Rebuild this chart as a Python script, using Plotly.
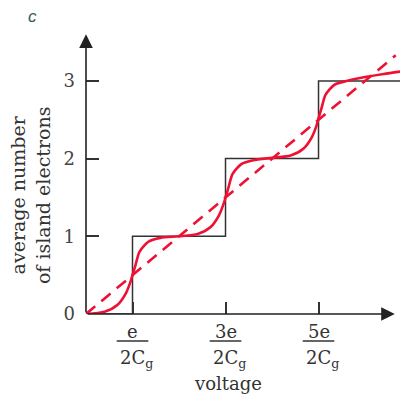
import plotly.graph_objects as go

# ---- data ----
step_x = [0.0, 0.5, 1.5, 2.5, 3.38]
step_y = [0, 1, 2, 3, 3]

dash_x = [0.0, 3.33]
dash_y = [0.0, 3.33]

curve_x = [0.00, 0.20, 0.34, 0.43, 0.48, 0.50, 0.53, 0.575, 0.67, 0.80, 1.00,
           1.20, 1.34, 1.43, 1.48, 1.50, 1.53, 1.575, 1.67, 1.80, 2.00,
           2.20, 2.34, 2.43, 2.48, 2.50, 2.53, 2.575, 2.67, 2.80, 3.00, 3.20, 3.38]
curve_y = [0.00, 0.03, 0.12, 0.27, 0.42, 0.50, 0.62, 0.80, 0.93, 0.98, 1.00,
           1.03, 1.12, 1.27, 1.42, 1.50, 1.62, 1.80, 1.93, 1.98, 2.01,
           2.04, 2.13, 2.28, 2.43, 2.52, 2.64, 2.82, 2.95, 3.00, 3.05, 3.09, 3.12]

y_tick_vals = [0, 1, 2, 3]
y_tick_text = ["0", "1", "2", "3"]
x_tick_vals = [0.5, 1.5, 2.5]
x_tick_num = ["e", "3e", "5e"]
x_tick_den = ["2C<sub>g</sub>", "2C<sub>g</sub>", "2C<sub>g</sub>"]

x_title = "voltage"
y_title = "average number<br>of island electrons"
panel_label = "c"

RED = "#ee1133"
DARK = "#333333"
SERIF = "DejaVu Serif, Liberation Serif, serif"

fig = go.Figure()
fig.add_trace(go.Scatter(x=step_x, y=step_y, mode="lines", line_shape="hv",
                         line=dict(color=DARK, width=1.5), hoverinfo="skip"))
fig.add_trace(go.Scatter(x=dash_x, y=dash_y, mode="lines",
                         line=dict(color=RED, width=2.6, dash="12px,8px"), hoverinfo="skip"))
fig.add_trace(go.Scatter(x=curve_x, y=curve_y, mode="lines",
                         line=dict(color=RED, width=2.6, shape="spline", smoothing=0.7),
                         hoverinfo="skip"))

annotations = []
# axes with arrowheads
annotations.append(dict(x=3.32, y=0, ax=0, ay=0, xref="x", yref="y", axref="x", ayref="y",
                        showarrow=True, arrowhead=2, arrowsize=1.7, arrowwidth=1.6,
                        arrowcolor="#222", text=""))
annotations.append(dict(x=0, y=3.60, ax=0, ay=0, xref="x", yref="y", axref="x", ayref="y",
                        showarrow=True, arrowhead=2, arrowsize=1.7, arrowwidth=1.6,
                        arrowcolor="#222", text=""))
shapes = []
for v, num, den in zip(x_tick_vals, x_tick_num, x_tick_den):
    annotations.append(dict(x=v, y=-0.062, xref="x", yref="paper", text=num, showarrow=False,
                            font=dict(family=SERIF, size=18, color=DARK), yanchor="middle"))
    annotations.append(dict(x=v, y=-0.112, xref="x", yref="paper", text=den, showarrow=False,
                            font=dict(family=SERIF, size=18, color=DARK), yanchor="top",
                            xshift=4))
    shapes.append(dict(type="line", xref="x", yref="paper", x0=v - 0.17, x1=v + 0.17,
                       y0=-0.0964, y1=-0.0964, line=dict(color=DARK, width=1.5)))

annotations.append(dict(x=0.452, y=-0.293, xref="paper", yref="paper", text=x_title,
                        showarrow=False, yanchor="bottom",
                        font=dict(family=SERIF, size=18, color=DARK)))
annotations.append(dict(x=-0.178, y=0.425, xref="paper", yref="paper", text=y_title,
                        showarrow=False, textangle=-90, xanchor="center", yanchor="middle",
                        font=dict(family=SERIF, size=19, color=DARK)))
annotations.append(dict(x=-0.169, y=1.061, xref="paper", yref="paper", text="<i>" + panel_label + "</i>",
                        showarrow=False, xanchor="center", yanchor="middle",
                        font=dict(family="Liberation Sans, Arial, sans-serif", size=17,
                                  color="#3a5a48")))

fig.update_layout(
    width=400, height=397,
    margin=dict(l=86, r=0, t=34, b=83),
    paper_bgcolor="white", plot_bgcolor="white",
    showlegend=False,
    annotations=annotations, shapes=shapes,
    xaxis=dict(range=[0, 3.376], showgrid=False, zeroline=False, showline=False,
               ticks="inside", ticklen=12, tickwidth=1.5, tickcolor=DARK,
               tickvals=x_tick_vals, showticklabels=False, fixedrange=True),
    yaxis=dict(range=[0, 3.604], showgrid=False, zeroline=False, showline=False,
               ticks="inside", ticklen=13, tickwidth=1.5, tickcolor=DARK,
               tickvals=y_tick_vals, ticktext=y_tick_text,
               tickfont=dict(family=SERIF, size=18, color="#444"),
               ticklabelstandoff=10, fixedrange=True),
)

fig.write_html("out.html", config={"displayModeBar": False},
               post_script="document.body.style.margin='0px';document.body.style.padding='0px';")
